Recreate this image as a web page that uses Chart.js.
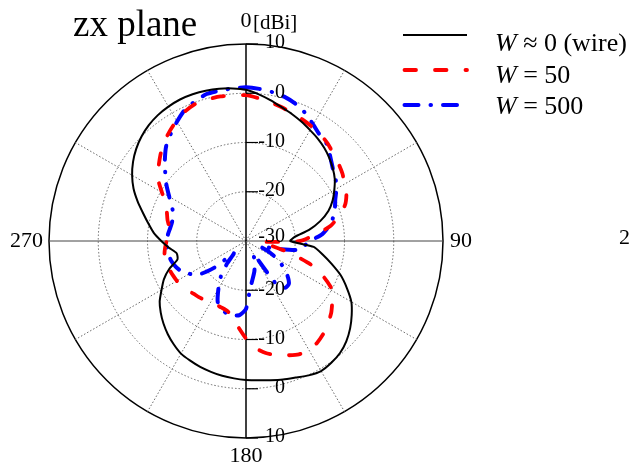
<!DOCTYPE html>
<html><head><meta charset="utf-8">
<script src="https://cdn.jsdelivr.net/npm/chart.js@4/dist/chart.umd.min.js"></script>
<style>html,body{margin:0;padding:0;background:#fff;overflow:hidden}canvas{display:block}</style>
</head><body>
<canvas id="c" width="630" height="468"></canvas>
<script>
// ---- data ----
const angles = [0,5,10,15,20,25,30,35,40,45,50,55,60,65,70,75,80,85,90,95,100,105,110,115,120,125,130,135,140,145,150,155,160,165,170,175,180,185,190,195,200,205,210,215,220,225,230,235,240,245,250,255,260,265,270,275,280,285,290,295,300,305,310,315,320,325,330,335,340,345,350,355];
const wire = [0.7,-0.1,-1.0,-1.9,-2.6,-3.3,-4.0,-4.6,-5.3,-6.1,-7.0,-8.0,-9.3,-10.6,-12.2,-14.4,-17.0,-20.0,-21.0,-16.2,-14.2,-12.0,-9.5,-7.4,-5.3,-3.8,-2.4,-1.2,-0.3,0.2,0.5,0.1,-0.5,-0.9,-1.3,-1.6,-1.8,-2.0,-2.2,-2.5,-2.8,-3.2,-3.6,-4.4,-5.3,-6.3,-7.4,-8.6,-10.2,-11.6,-13.4,-15.6,-15.7,-14.3,-12.8,-11.2,-9.9,-8.4,-6.6,-4.8,-3.3,-2.0,-0.9,0.0,0.7,1.2,1.5,1.7,1.7,1.6,1.4,1.1];
const w50 = [-0.4,-0.9,-1.4,-1.9,-2.4,-2.8,-3.2,-3.6,-4.2,-4.9,-5.5,-6.1,-6.9,-7.5,-8.6,-10.5,-12.6,-16.0,-19.0,-27.0,-25.0,-21.0,-16.0,-12.5,-9.6,-8.6,-7.4,-6.4,-5.5,-4.8,-4.4,-4.6,-5.3,-6.0,-6.9,-8.2,-10.2,-12.4,-14.3,-15.3,-15.6,-15.7,-15.7,-15.4,-15.1,-14.9,-14.4,-14.0,-13.8,-13.6,-13.4,-13.4,-13.2,-13.5,-13.9,-14.4,-14.2,-13.5,-12.9,-12.0,-10.3,-8.2,-6.8,-5.4,-4.0,-2.9,-1.8,-0.9,-0.3,-0.2,-0.2,-0.3];
const w500 = [1.2,1.0,0.7,0.3,-0.4,-1.4,-2.7,-3.8,-4.4,-5.8,-7.0,-7.8,-8.8,-10.0,-10.8,-11.7,-12.9,-14.5,-17.0,-18.2,-19.5,-24.0,-27.0,-25.0,-22.5,-20.8,-19.0,-17.7,-17.6,-19.5,-27.0,-26.0,-24.8,-23.5,-22.2,-20.3,-16.2,-14.9,-14.7,-14.8,-15.3,-16.4,-18.8,-21.0,-24.0,-26.5,-21.5,-17.9,-16.7,-15.5,-14.8,-14.3,-14.0,-13.9,-13.9,-14.1,-14.4,-14.5,-14.3,-13.4,-12.0,-10.3,-8.6,-6.7,-4.8,-3.4,-2.0,-0.6,0.2,0.9,1.0,1.1];
const seriesNames = ['W \u2248 0 (wire)', 'W = 50', 'W = 500'];
const radialTicks = [10, 0, -10, -20, -30];
const angleTickLabels = ['0', '90', '180', '270'];
const unitLabel = '[dBi]';
const titleText = 'zx plane';

const FONT = '"Liberation Serif","Times New Roman",Times,serif';

const overlay = {
  id: 'overlay',
  afterDatasetsDraw(chart) {
    const ctx = chart.ctx, s = chart.scales.r;
    const R = s.drawingArea, cx = s.xCenter, cy = s.yCenter;
    ctx.save();
    ctx.fillStyle = '#000';
    ctx.strokeStyle = '#000';
    ctx.lineWidth = 1.2;
    // radial ticks & labels
    ctx.font = '20px ' + FONT;
    ctx.textAlign = 'right';
    ctx.textBaseline = 'middle';
    radialTicks.forEach(v => {
      const d = s.getDistanceFromCenterForValue(v);
      [-1, 1].forEach(sg => {
        if (d < 1 && sg === 1) return;
        const y = cy + sg * d;
        if (d >= 1) { ctx.beginPath(); ctx.moveTo(cx, y); ctx.lineTo(cx + 12, y); ctx.stroke(); }
        ctx.fillText(String(v), cx + 39, d < 1 ? y - 4 : y - 1);
      });
    });
    // angle labels
    ctx.font = '22px ' + FONT;
    angleTickLabels.forEach(lbl => {
      const idx = chart.data.labels.indexOf(Number(lbl));
      const a = Number(lbl);
      let p;
      if (a === 0) { p = s.getPointPosition(idx, R + 17); ctx.textAlign = 'center'; ctx.textBaseline = 'alphabetic'; }
      else if (a === 90) { p = s.getPointPosition(idx, R + 7); ctx.textAlign = 'left'; ctx.textBaseline = 'middle'; }
      else if (a === 180) { p = s.getPointPosition(idx, R + 7); ctx.textAlign = 'center'; ctx.textBaseline = 'top'; }
      else { p = s.getPointPosition(idx, R + 6); ctx.textAlign = 'right'; ctx.textBaseline = 'middle'; }
      ctx.fillText(lbl, p.x, p.y);
    });
    // unit
    ctx.font = '21px ' + FONT;
    ctx.textAlign = 'left'; ctx.textBaseline = 'alphabetic';
    ctx.fillText(unitLabel, cx + 7, 29);
    // clipped neighbour panel label
    ctx.font = '22px ' + FONT;
    ctx.textBaseline = 'middle';
    ctx.fillText('270', 619, 238);
    // title
    ctx.font = '37px ' + FONT;
    ctx.textBaseline = 'alphabetic';
    ctx.fillText(titleText, 73, 36);
    // legend
    const lineY = [35, 70, 105], textY = [51, 83, 114];
    chart.data.datasets.forEach((ds, i) => {
      ctx.save();
      ctx.strokeStyle = ds.borderColor;
      ctx.lineWidth = ds.borderWidth;
      ctx.lineCap = ds.borderCapStyle || 'butt';
      ctx.setLineDash(ds.borderDash || []);
      const x0 = ds.borderCapStyle === 'round' ? 404.5 : 403;
      ctx.beginPath(); ctx.moveTo(x0, lineY[i]); ctx.lineTo(467, lineY[i]); ctx.stroke();
      ctx.restore();
      ctx.textAlign = 'left';
      ctx.font = 'italic 26px ' + FONT;
      ctx.fillText('W', 495, textY[i]);
      const w = ctx.measureText('W').width;
      ctx.font = '26px ' + FONT;
      ctx.fillText(ds.label.slice(1), 495 + w, textY[i]);
    });
    ctx.restore();
  }
};

new Chart(document.getElementById('c'), {
  type: 'radar',
  data: {
    labels: angles,
    datasets: [
      { label: seriesNames[0], data: wire, borderColor: '#000000', borderWidth: 2, borderDash: [], borderCapStyle: 'butt', fill: false, backgroundColor: 'transparent', pointRadius: 0, tension: 0.2 },
      { label: seriesNames[1], data: w50, borderColor: '#ff0000', borderWidth: 3.8, borderDash: [11.5, 19], borderCapStyle: 'round', fill: false, backgroundColor: 'transparent', pointRadius: 0, tension: 0.2 },
      { label: seriesNames[2], data: w500, borderColor: '#0000ff', borderWidth: 4, borderDash: [14, 12, 0.5, 12], borderCapStyle: 'round', fill: false, backgroundColor: 'transparent', pointRadius: 0, tension: 0.2 }
    ]
  },
  options: {
    responsive: false,
    animation: false,
    devicePixelRatio: 1,
    layout: { padding: { left: 49, right: 187, top: 44, bottom: 30 } },
    plugins: { legend: { display: false }, title: { display: false }, tooltip: { enabled: false } },
    scales: {
      r: {
        min: -30, max: 10,
        ticks: { stepSize: 10, display: false },
        pointLabels: { display: false },
        grid: {
          circular: true,
          color: c => c.tick && c.tick.value === 10 ? '#000' : '#666',
          lineWidth: c => c.tick && c.tick.value === 10 ? 1.5 : 1
        },
        border: { dash: c => c.tick && c.tick.value === 10 ? [] : [1.5, 2] },
        angleLines: {
          display: true,
          color: c => (c.index % 36 === 0) ? '#000' : (c.index % 18 === 0 ? '#444' : (c.index % 6 === 0 ? '#666' : 'rgba(0,0,0,0)')),
          lineWidth: c => (c.index % 36 === 0) ? 1.5 : (c.index % 6 === 0 ? 1 : 0),
          borderDash: c => (c.index % 18 === 0) ? [] : [1.5, 2]
        }
      }
    }
  },
  plugins: [overlay]
});
</script>
</body></html>
